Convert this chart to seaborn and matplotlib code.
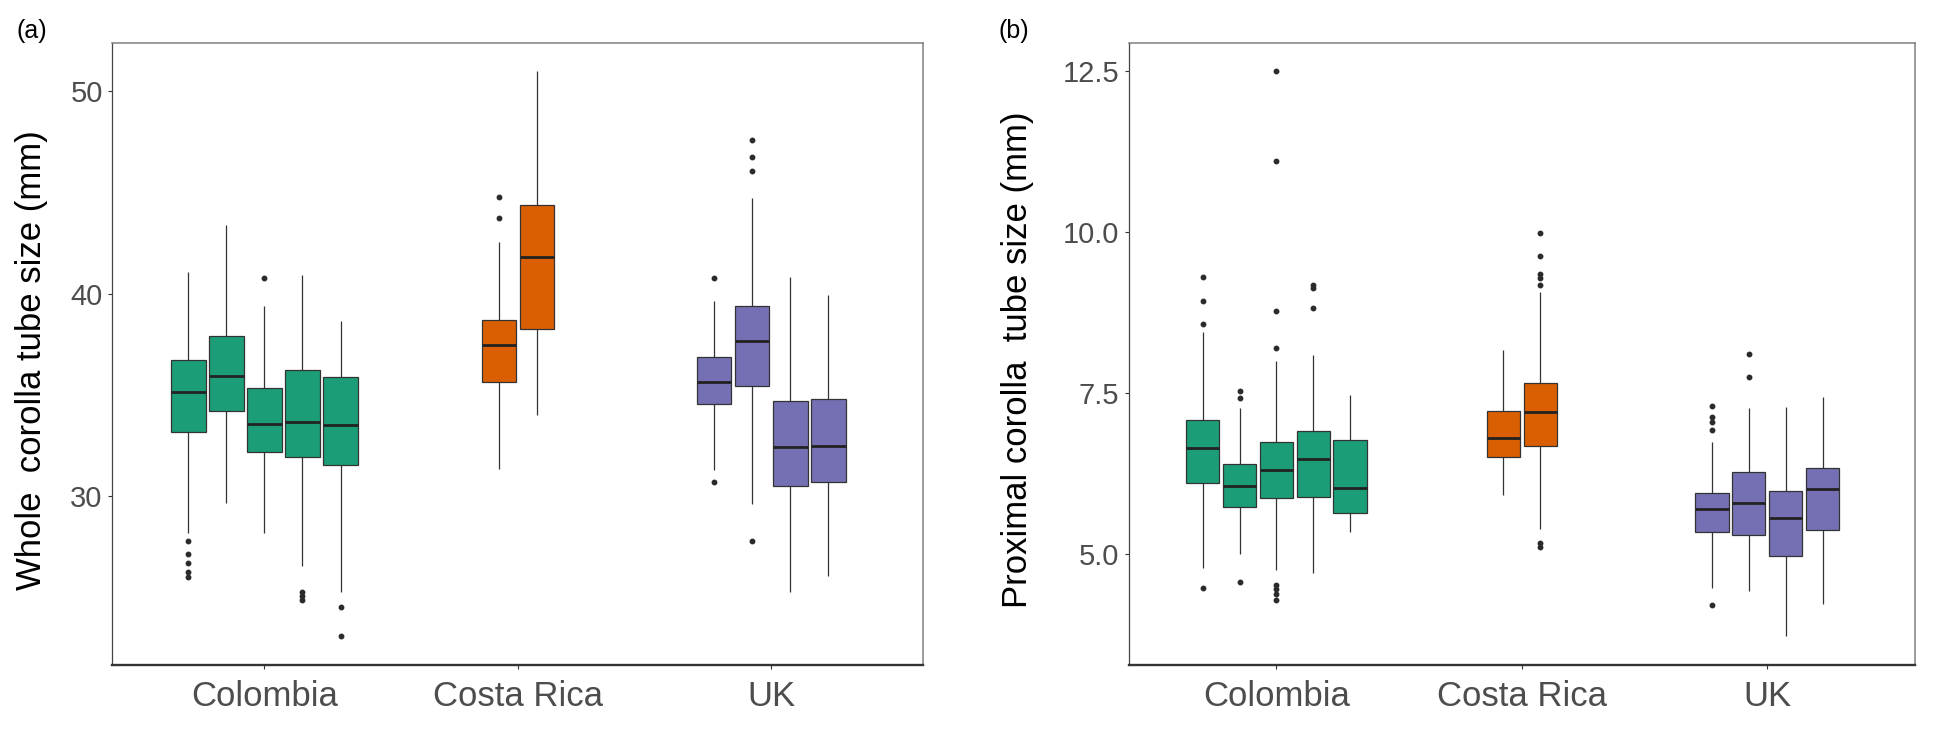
import numpy as np
import pandas as pd
import matplotlib
matplotlib.use("Agg")
import matplotlib.pyplot as plt
import seaborn as sns

# ---------------- data ----------------
countries = ["Colombia", "Costa Rica", "UK"]
n_boxes = [5, 2, 4]                      # boxes per country, in order
country_colors = ["#1B9E77", "#D95F02", "#7570B3"]

# Panel (a): whole corolla tube size (mm); 11 boxes in order
whole_whislo = [28.17, 29.69, 28.17, 26.56, 25.29, 31.36, 34.03, 31.31, 29.63, 25.29, 26.09]
whole_q1     = [33.20, 34.20, 32.18, 31.95, 31.56, 35.65, 38.28, 34.56, 35.46, 30.53, 30.71]
whole_med    = [35.13, 35.96, 33.55, 33.65, 33.52, 37.46, 41.81, 35.63, 37.66, 32.46, 32.47]
whole_q3     = [36.74, 37.89, 35.37, 36.22, 35.91, 38.68, 44.37, 36.88, 39.41, 34.69, 34.82]
whole_whishi = [41.09, 43.38, 39.39, 40.91, 38.65, 42.57, 50.96, 39.64, 44.74, 40.82, 39.94]
whole_fliers = [
    [27.80, 27.14, 26.69, 26.28, 26.03],
    [],
    [40.79],
    [25.29, 25.10, 24.90],
    [24.52, 23.10],
    [43.73, 44.78],
    [],
    [40.76, 30.70],
    [46.05, 46.73, 47.60, 27.81],
    [],
    [],
]

# Panel (b): proximal corolla tube size (mm)
prox_whislo = [4.79, 5.01, 4.76, 4.72, 5.35, 5.92, 5.40, 4.48, 4.43, 3.73, 4.23]
prox_q1     = [6.11, 5.74, 5.87, 5.89, 5.65, 6.51, 6.68, 5.35, 5.31, 4.98, 5.38]
prox_med    = [6.65, 6.07, 6.31, 6.48, 6.03, 6.81, 7.21, 5.70, 5.80, 5.57, 6.01]
prox_q3     = [7.09, 6.41, 6.75, 6.92, 6.77, 7.23, 7.66, 5.96, 6.28, 5.98, 6.34]
prox_whishi = [8.46, 7.27, 8.01, 8.09, 7.48, 8.18, 9.07, 6.75, 7.27, 7.29, 7.45]
prox_fliers = [
    [8.58, 8.93, 9.31, 4.48],
    [7.43, 7.54, 4.57],
    [8.21, 8.78, 11.11, 12.50, 4.53, 4.47, 4.39, 4.30],
    [8.83, 9.18, 9.13],
    [],
    [],
    [9.18, 9.30, 9.36, 9.64, 9.99, 5.18, 5.12],
    [6.94, 7.06, 7.13, 7.31, 4.21],
    [7.75, 8.12],
    [],
    [],
]

whole_label = "Whole  corolla tube size (mm)"
prox_label = "Proximal corolla  tube size (mm)"


# ---------------- helpers ----------------
def build_frame(whislo, q1, med, q3, whishi, fliers, reps=30):
    """Sample sets whose quartiles/whiskers reproduce the read summary values."""
    rows = []
    step = 0.75 / max(n_boxes)           # ggplot dodge2: total width 0.75 split over max groups
    k = 0
    for ci, (country, n) in enumerate(zip(countries, n_boxes)):
        for j in range(n):
            pos = ci + (j - (n - 1) / 2) * step
            vals = ([whislo[k]] + [q1[k]] * reps + [med[k]] * reps +
                    [q3[k]] * reps + [whishi[k]] + list(fliers[k]))
            for v in vals:
                rows.append((round(pos, 6), v, country))
            k += 1
    return pd.DataFrame(rows, columns=["pos", "value", "country"])


sns.set_style("white")
plt.rcParams["font.family"] = ["Liberation Sans", "DejaVu Sans"]

fig = plt.figure(figsize=(19.38, 7.30), dpi=100)
ax_a = fig.add_axes([0.0580, 0.0897, 0.4185, 0.8511])
ax_b = fig.add_axes([0.5826, 0.0897, 0.4053, 0.8511])

palette = dict(zip(countries, country_colors))
line_col = "#333333"

panels = [
    (ax_a, build_frame(whole_whislo, whole_q1, whole_med, whole_q3, whole_whishi, whole_fliers),
     whole_label, [30, 40, 50], ["30", "40", "50"], -0.079, "(a)", 17),
    (ax_b, build_frame(prox_whislo, prox_q1, prox_med, prox_q3, prox_whishi, prox_fliers),
     prox_label, [5.0, 7.5, 10.0, 12.5], ["5.0", "7.5", "10.0", "12.5"], -0.121, "(b)", 998),
]

for ax, df, ylab, yt, ytl, lab_x, tag, tag_x in panels:
    sns.boxplot(
        data=df, x="pos", y="value", hue="country", palette=palette,
        native_scale=True, dodge=False, width=0.9, saturation=1,
        linecolor=line_col, linewidth=0.9, showcaps=False, legend=False,
        flierprops=dict(marker="o", markersize=3.2, markerfacecolor="#2b2b2b",
                        markeredgecolor="#2b2b2b"),
        medianprops=dict(color="#222222", linewidth=2.0),
        whiskerprops=dict(color=line_col, linewidth=0.9),
        ax=ax,
    )
    lo, hi = df["value"].min(), df["value"].max()
    pad = 0.05 * (hi - lo)
    ax.set_ylim(lo - pad, hi + pad)
    ax.set_xlim(-0.6, len(countries) - 1 + 0.6)
    ax.set_xticks(range(len(countries)))
    ax.set_xticklabels(countries)
    ax.set_yticks(yt)
    ax.set_yticklabels(ytl)
    ax.set_xlabel("")
    ax.set_ylabel(ylab, fontsize=25, color="black")
    ax.yaxis.set_label_coords(lab_x, 0.49)
    ax.grid(False)

    for s in ["top", "right"]:
        ax.spines[s].set_color("#808080")
        ax.spines[s].set_linewidth(1.1)
    ax.spines["left"].set_color("#444444")
    ax.spines["left"].set_linewidth(0.9)
    ax.spines["bottom"].set_color("#333333")
    ax.spines["bottom"].set_linewidth(1.7)

    ax.tick_params(axis="y", direction="out", length=3, width=0.8, color="#333333",
                   labelsize=21, labelcolor="#4D4D4D", pad=4, left=True)
    ax.tick_params(axis="x", direction="out", length=3, width=0.8, color="#333333",
                   labelsize=25, labelcolor="#4D4D4D", pad=8, bottom=True)

    fig.text(tag_x / 1938, 1 - 31 / 730, tag, fontsize=18, color="black",
             ha="left", va="center")

fig.savefig("out.png", dpi=100)
